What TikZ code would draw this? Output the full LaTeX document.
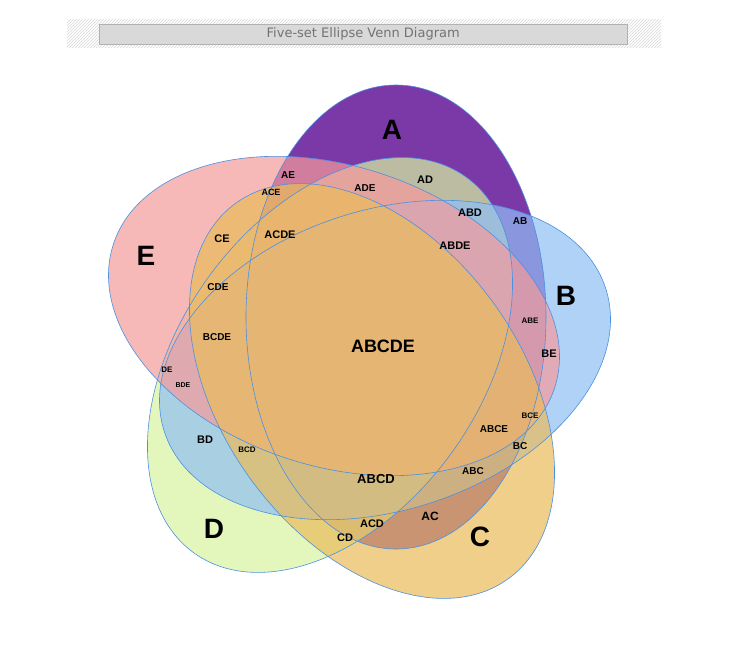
\documentclass[tikz,border=0pt]{standalone}
\usepackage{fontspec}
\setmainfont{Liberation Sans}
\newfontfamily\titlefont{DejaVu Sans}
\usetikzlibrary{patterns}
\definecolor{cA}{RGB}{112,40,160}
\definecolor{cB}{RGB}{145,191,244}
\definecolor{cC}{RGB}{234,188,91}
\definecolor{cD}{RGB}{216,245,162}
\definecolor{cE}{RGB}{245,155,155}
\definecolor{edge}{RGB}{74,144,226}
\tikzset{
 setell/.style={fill opacity=#1},
 big/.style={font=\fontsize{28}{28}\selectfont\bfseries},
 lab/.style={font=\fontsize{#1}{#1}\selectfont\bfseries},
}
\begin{document}
\begin{tikzpicture}[x=1pt,y=-1pt]
\useasboundingbox (0,0) rectangle (741,660);
\fill[white] (0,0) rectangle (741,660);
\fill[pattern=north east lines,pattern color=black!15] (67,20) rectangle (661,48);
\node[draw=black!30,fill=black!15,minimum width=528pt,minimum height=20pt,inner sep=0pt,anchor=north west,text=black!55,font=\titlefont\fontsize{13}{13}\selectfont] (title) at (99,24) {Five-set Ellipse Venn Diagram};
\fill[cA,setell=0.92] (396,317) ellipse [x radius=232,y radius=150,rotate=90];
\fill[cD,setell=0.7] (330,365) ellipse [x radius=232,y radius=150,rotate=54];
\fill[cB,setell=0.7] (385,360) ellipse [x radius=232,y radius=150,rotate=18];
\fill[cE,setell=0.7] (334,316) ellipse [x radius=232,y radius=150,rotate=-18];
\fill[cC,setell=0.7] (372,391) ellipse [x radius=232,y radius=150,rotate=-54];
\draw[edge,line width=0.6pt] (396,317) ellipse [x radius=232,y radius=150,rotate=90];
\draw[edge,line width=0.6pt] (385,360) ellipse [x radius=232,y radius=150,rotate=18];
\draw[edge,line width=0.6pt] (330,365) ellipse [x radius=232,y radius=150,rotate=54];
\draw[edge,line width=0.6pt] (334,316) ellipse [x radius=232,y radius=150,rotate=-18];
\draw[edge,line width=0.6pt] (372,391) ellipse [x radius=232,y radius=150,rotate=-54];
\node[big] (lA) at (392,130) {A};
\node[big] (lB) at (566,296) {B};
\node[big] (lC) at (480,537) {C};
\node[big] (lD) at (214,529) {D};
\node[big] (lE) at (146,256) {E};
\node[lab=18] (abcde) at (383,346) {ABCDE};
\node[lab=10] at (288,175) {AE};
\node[lab=9] at (271,192) {ACE};
\node[lab=10] at (365,188) {ADE};
\node[lab=11] at (425,180) {AD};
\node[lab=11] at (470,213) {ABD};
\node[lab=10] at (520,221) {AB};
\node[lab=11] at (455,246) {ABDE};
\node[lab=11] at (280,235) {ACDE};
\node[lab=11] at (222,239) {CE};
\node[lab=10] at (218,287) {CDE};
\node[lab=10] at (217,337) {BCDE};
\node[lab=8] at (530,321) {ABE};
\node[lab=11] at (549,354) {BE};
\node[lab=8] at (167,370) {DE};
\node[lab=7] at (183,385) {BDE};
\node[lab=8] at (530,416) {BCE};
\node[lab=10] at (494,429) {ABCE};
\node[lab=10] at (520,446) {BC};
\node[lab=10] at (473,471) {ABC};
\node[lab=11] at (205,440) {BD};
\node[lab=8] at (247,450) {BCD};
\node[lab=13] at (376,479) {ABCD};
\node[lab=12] at (430,516) {AC};
\node[lab=11] at (372,524) {ACD};
\node[lab=11] at (345,538) {CD};
\end{tikzpicture}
\end{document}
